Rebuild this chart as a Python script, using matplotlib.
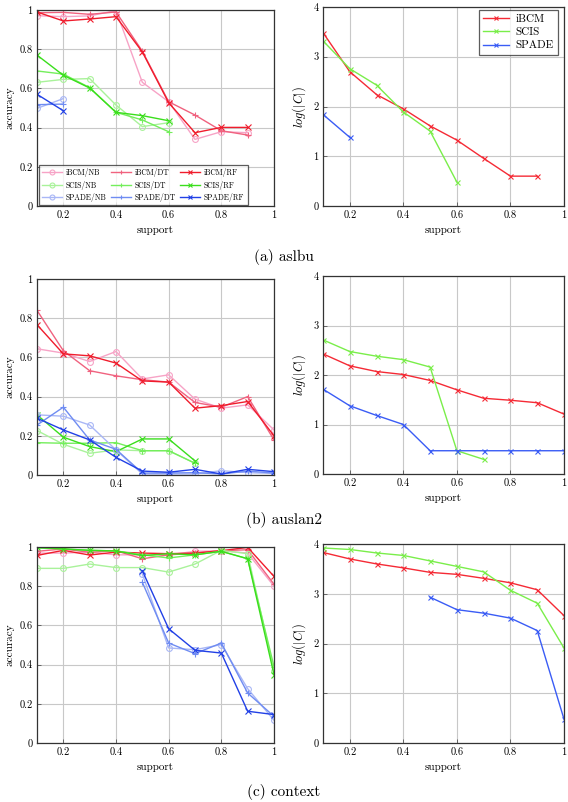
import matplotlib
matplotlib.use("Agg")
import matplotlib.pyplot as plt

plt.rcParams['font.family'] = ['cmr10', 'DejaVu Serif']
plt.rcParams['mathtext.fontset'] = 'cm'
plt.rcParams['axes.unicode_minus'] = False

# ---------------- data ----------------
support9 = [0.1, 0.2, 0.3, 0.4, 0.5, 0.6, 0.7, 0.8, 0.9]
support10 = [0.1, 0.2, 0.3, 0.4, 0.5, 0.6, 0.7, 0.8, 0.9, 1.0]

# (a) aslbu
a_ibcm_nb = [0.971, 0.966, 0.970, 0.997, 0.631, 0.532, 0.340, 0.379, 0.374]
a_ibcm_dt = [0.986, 0.988, 0.978, 0.990, 0.790, 0.532, 0.464, 0.384, 0.362]
a_ibcm_rf = [0.990, 0.944, 0.954, 0.966, 0.786, 0.527, 0.374, 0.401, 0.401]
a_scis_nb = [0.631, 0.646, 0.650, 0.515, 0.405, 0.425]
a_scis_dt = [0.689, 0.673, 0.604, 0.478, 0.439, 0.379]
a_scis_rf = [0.770, 0.667, 0.602, 0.478, 0.461, 0.435]
a_spade_nb = [0.498, 0.548]
a_spade_dt = [0.517, 0.520]
a_spade_rf = [0.570, 0.486]
a_log_ibcm = [3.485, 2.70, 2.24, 1.953, 1.61, 1.324, 0.957, 0.60, 0.60]
a_log_scis = [3.32, 2.76, 2.43, 1.89, 1.505, 0.48]
a_log_spade = [1.84, 1.38]

# (b) auslan2
b_ibcm_nb = [0.644, 0.622, 0.579, 0.630, 0.490, 0.511, 0.387, 0.341, 0.358, 0.230]
b_ibcm_dt = [0.840, 0.634, 0.532, 0.506, 0.486, 0.474, 0.370, 0.346, 0.400, 0.179]
b_ibcm_rf = [0.767, 0.618, 0.608, 0.571, 0.480, 0.474, 0.341, 0.354, 0.375, 0.200]
b_scis_nb = [0.227, 0.157, 0.111, 0.128, 0.124, 0.124, 0.060]
b_scis_dt = [0.165, 0.162, 0.162, 0.165, 0.124, 0.124, 0.060]
b_scis_rf = [0.307, 0.193, 0.145, 0.119, 0.184, 0.184, 0.072]
b_spade_nb = [0.307, 0.300, 0.255, 0.128, 0.005, 0.005, 0.005, 0.022, 0.012, 0.008]
b_spade_dt = [0.255, 0.346, 0.179, 0.131, 0.010, 0.010, 0.012, 0.005, 0.020, 0.010]
b_spade_rf = [0.290, 0.230, 0.179, 0.090, 0.020, 0.014, 0.029, 0.005, 0.029, 0.017]
b_log_ibcm = [2.427, 2.185, 2.07, 2.01, 1.89, 1.70, 1.53, 1.49, 1.44, 1.21]
b_log_scis = [2.71, 2.474, 2.38, 2.31, 2.16, 0.47, 0.296]
b_log_spade = [1.714, 1.378, 1.183, 1.0, 0.47, 0.47, 0.47, 0.47, 0.47, 0.47]

# (c) context
c_ibcm_nb = [0.969, 0.969, 0.974, 0.960, 0.960, 0.960, 0.978, 0.981, 0.969, 0.800]
c_ibcm_dt = [0.978, 0.990, 0.973, 0.981, 0.940, 0.960, 0.969, 0.981, 0.986, 0.810]
c_ibcm_rf = [0.957, 0.983, 0.959, 0.974, 0.969, 0.966, 0.969, 0.981, 0.998, 0.850]
c_scis_nb = [0.891, 0.891, 0.913, 0.895, 0.895, 0.872, 0.913, 0.983, 0.966, 0.366]
c_scis_dt = [0.995, 0.990, 0.983, 0.980, 0.960, 0.944, 0.960, 0.978, 0.940, 0.390]
c_scis_rf = [0.998, 0.990, 0.983, 0.980, 0.956, 0.966, 0.960, 0.978, 0.940, 0.349]
c_spade_support = [0.5, 0.6, 0.7, 0.8, 0.9, 1.0]
c_spade_nb = [0.862, 0.485, 0.476, 0.502, 0.277, 0.116]
c_spade_dt = [0.820, 0.510, 0.456, 0.510, 0.255, 0.136]
c_spade_rf = [0.879, 0.583, 0.473, 0.459, 0.162, 0.145]
c_log_ibcm = [3.83, 3.70, 3.60, 3.52, 3.43, 3.39, 3.31, 3.22, 3.08, 2.56]
c_log_scis = [3.92, 3.89, 3.82, 3.77, 3.66, 3.55, 3.44, 3.07, 2.81, 1.91]
c_log_spade = [2.93, 2.68, 2.61, 2.51, 2.26, 0.48]

captions = ["(a) aslbu", "(b) auslan2", "(c) context"]
methods = ["iBCM", "SCIS", "SPADE"]
classifiers = ["NB", "DT", "RF"]

# ---------------- styles ----------------
acc_colors = {
    ("iBCM", "NB"): "#f7a3c6", ("iBCM", "DT"): "#f0627f", ("iBCM", "RF"): "#f01c2c",
    ("SCIS", "NB"): "#a9f29a", ("SCIS", "DT"): "#74ee5c", ("SCIS", "RF"): "#3ade1c",
    ("SPADE", "NB"): "#a9b7f6", ("SPADE", "DT"): "#6f8cf2", ("SPADE", "RF"): "#2140e6",
}
acc_markers = {"NB": "o", "DT": "+", "RF": "x"}
log_colors = {"iBCM": "#f52a35", "SCIS": "#7aee4a", "SPADE": "#3a5cf5"}

W, H = 568, 802
fig = plt.figure(figsize=(W / 100, H / 100), dpi=100)

def frac(l, r, t, b):
    return [l / W, 1 - b / H, (r - l) / W, (b - t) / H]

rows = [
    dict(left=(37, 274, 10, 206), right=(323, 564, 7, 206), cap=257,
         acc=[(support9, a_ibcm_nb), (support9, a_ibcm_dt), (support9, a_ibcm_rf),
              (support9[:6], a_scis_nb), (support9[:6], a_scis_dt), (support9[:6], a_scis_rf),
              (support9[:2], a_spade_nb), (support9[:2], a_spade_dt), (support9[:2], a_spade_rf)],
         log=[(support9, a_log_ibcm), (support9[:6], a_log_scis), (support9[:2], a_log_spade)]),
    dict(left=(37, 274, 279, 475), right=(323, 564, 276, 474), cap=520,
         acc=[(support10, b_ibcm_nb), (support10, b_ibcm_dt), (support10, b_ibcm_rf),
              (support10[:7], b_scis_nb), (support10[:7], b_scis_dt), (support10[:7], b_scis_rf),
              (support10, b_spade_nb), (support10, b_spade_dt), (support10, b_spade_rf)],
         log=[(support10, b_log_ibcm), (support10[:7], b_log_scis), (support10, b_log_spade)]),
    dict(left=(37, 274, 547, 743), right=(323, 564, 544, 743), cap=792,
         acc=[(support10, c_ibcm_nb), (support10, c_ibcm_dt), (support10, c_ibcm_rf),
              (support10, c_scis_nb), (support10, c_scis_dt), (support10, c_scis_rf),
              (c_spade_support, c_spade_nb), (c_spade_support, c_spade_dt), (c_spade_support, c_spade_rf)],
         log=[(support10, c_log_ibcm), (support10, c_log_scis), (c_spade_support, c_log_spade)]),
]

def style_axes(ax, ymax, yticks, ylabels):
    ax.set_xlim(0.1, 1.0)
    ax.set_ylim(0, ymax)
    ax.set_xticks([0.2, 0.4, 0.6, 0.8, 1.0])
    ax.set_xticklabels(["0.2", "0.4", "0.6", "0.8", "1"])
    ax.set_yticks(yticks)
    ax.set_yticklabels(ylabels)
    ax.grid(True, color="#c8c8c8", lw=0.8)
    ax.set_axisbelow(True)
    ax.tick_params(direction="in", length=3, width=0.6, labelsize=7.5, pad=3, color="#555555")
    for s in ax.spines.values():
        s.set_linewidth(0.9)
        s.set_color("#333333")
    ax.set_xlabel("support", fontsize=8, labelpad=4)

for i, row in enumerate(rows):
    axl = fig.add_axes(frac(*row["left"]))
    handles = {}
    k = 0
    for m in methods:
        for c in classifiers:
            xs, ys = row["acc"][k]
            k += 1
            mk = acc_markers[c]
            col = acc_colors[(m, c)]
            ln, = axl.plot(xs, ys, color=col, lw=1.0, marker=mk,
                           ms=4.2 if mk == "o" else 3.8, mew=0.8,
                           mfc="none" if mk == "o" else col,
                           label=f"{m}/{c}")
            handles[(m, c)] = ln
    style_axes(axl, 1.0, [0, 0.2, 0.4, 0.6, 0.8, 1.0], ["0", "0.2", "0.4", "0.6", "0.8", "1"])
    axl.set_ylabel("accuracy", fontsize=8, labelpad=4)
    if i == 0:
        order = [(m, c) for c in classifiers for m in methods]
        leg = axl.legend([handles[o] for o in order], [f"{o[0]}/{o[1]}" for o in order],
                         ncol=3, loc="lower left", bbox_to_anchor=(0.008, 0.005),
                         fontsize=5.5, frameon=True, fancybox=False, edgecolor="#333333",
                         handlelength=2.6, handletextpad=0.5, columnspacing=0.6,
                         labelspacing=0.45, borderpad=0.4, borderaxespad=0,
                         markerscale=0.85)
        leg.get_frame().set_linewidth(0.9)

    axr = fig.add_axes(frac(*row["right"]))
    for j, m in enumerate(methods):
        xs, ys = row["log"][j]
        axr.plot(xs, ys, color=log_colors[m], lw=1.0, marker="x", ms=3.6, mew=0.8, label=m)
    style_axes(axr, 4.0, [0, 1, 2, 3, 4], ["0", "1", "2", "3", "4"])
    axr.set_ylabel(r"$log(|C|)$", fontsize=9, labelpad=4)
    if i == 0:
        leg = axr.legend(loc="upper right", bbox_to_anchor=(0.975, 0.985), fontsize=8,
                         frameon=True, fancybox=False, edgecolor="#333333",
                         handlelength=2.3, handletextpad=0.6, labelspacing=0.3,
                         borderpad=0.4, borderaxespad=0, markerscale=0.85)
        leg.get_frame().set_linewidth(0.9)

    fig.text(0.5, 1 - row["cap"] / H, captions[i], ha="center", va="center", fontsize=11)

fig.savefig("out.png", dpi=100)
